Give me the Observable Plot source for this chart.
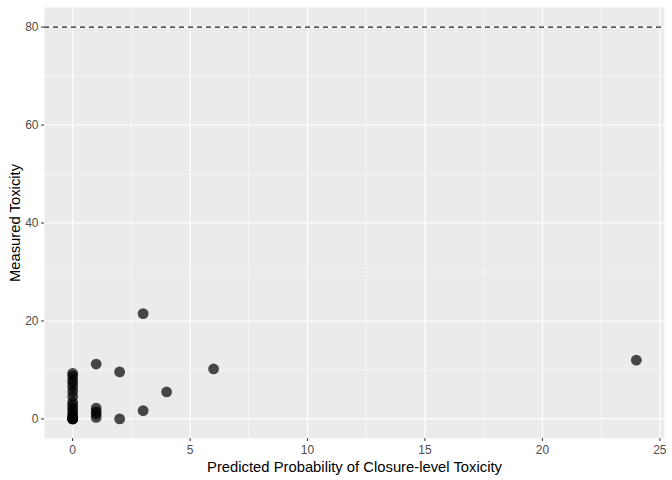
<!DOCTYPE html>
<html>
<head>
<meta charset="utf-8">
<script src="https://cdn.jsdelivr.net/npm/d3@7"></script>
<script src="https://cdn.jsdelivr.net/npm/@observablehq/plot@0.6"></script>
<style>
  html, body { margin: 0; padding: 0; background: #ffffff; }
  svg { font-family: "Liberation Sans", Arial, Helvetica, sans-serif; }
</style>
</head>
<body>
<div id="chart"></div>
<script>
// Predicted probability (x) and measured toxicity (y)
const predicted = [
  0, 0, 0, 0, 0, 0, 0, 0, 0, 0, 0, 0, 0, 0, 0, 0, 0, 0,
  1, 1, 1, 1, 1,
  2, 2,
  3, 3,
  4,
  6,
  24
];
const measured = [
  9.3, 8.8, 8.0, 7.3, 6.5, 5.6, 4.6, 3.4, 2.8, 2.2, 1.6, 1.0, 0.6, 0.3, 0, 0, 0, 0,
  11.2, 2.2, 1.5, 1.0, 0.3,
  9.6, 0,
  21.5, 1.7,
  5.5,
  10.2,
  12.0
];
const threshold = [80];
const xTicks = [0, 5, 10, 15, 20, 25];
const xMinor = [2.5, 7.5, 12.5, 17.5, 22.5];
const yTicks = [0, 20, 40, 60, 80];
const yMinor = [10, 30, 50, 70];

const points = predicted.map((p, i) => ({x: p, y: measured[i]}));

const chart = Plot.plot({
  width: 672,
  height: 480,
  marginLeft: 44,
  marginRight: 8,
  marginTop: 7,
  marginBottom: 42,
  x: {domain: [-1.2, 25.2]},
  y: {domain: [-4, 84]},
  style: {fontFamily: "'Liberation Sans', Arial, Helvetica, sans-serif", background: "#ffffff"},
  marks: [
    Plot.frame({fill: "#ebebeb", stroke: null}),
    Plot.ruleX(xMinor, {stroke: "#ffffff", strokeWidth: 0.55}),
    Plot.ruleY(yMinor, {stroke: "#ffffff", strokeWidth: 0.55}),
    Plot.ruleX(xTicks, {stroke: "#ffffff", strokeWidth: 1.1}),
    Plot.ruleY(yTicks, {stroke: "#ffffff", strokeWidth: 1.1}),
    Plot.ruleY(threshold, {stroke: "#222222", strokeWidth: 1.1, strokeDasharray: "5,4"}),
    Plot.dot(points, {x: "x", y: "y", r: 5.4, fill: "#000000", fillOpacity: 0.7, stroke: null}),
    Plot.axisX({
      ticks: xTicks, tickSize: 3, tickPadding: 4, fontSize: 12,
      stroke: "#333333", color: "#4d4d4d",
      label: "Predicted Probability of Closure-level Toxicity",
      labelAnchor: "center", labelArrow: "none", labelOffset: 33
    }),
    Plot.axisY({
      ticks: yTicks, tickSize: 3, tickPadding: 3, fontSize: 12,
      stroke: "#333333", color: "#4d4d4d",
      label: "Measured Toxicity",
      labelAnchor: "center", labelArrow: "none", labelOffset: 35
    })
  ]
});

// make axis titles black and larger
chart.querySelectorAll("[aria-label='x-axis label'], [aria-label='y-axis label']").forEach(g => {
  g.setAttribute("fill", "#000000");
  g.setAttribute("font-size", "14.8");
});
document.getElementById("chart").appendChild(chart);
</script>
</body>
</html>
